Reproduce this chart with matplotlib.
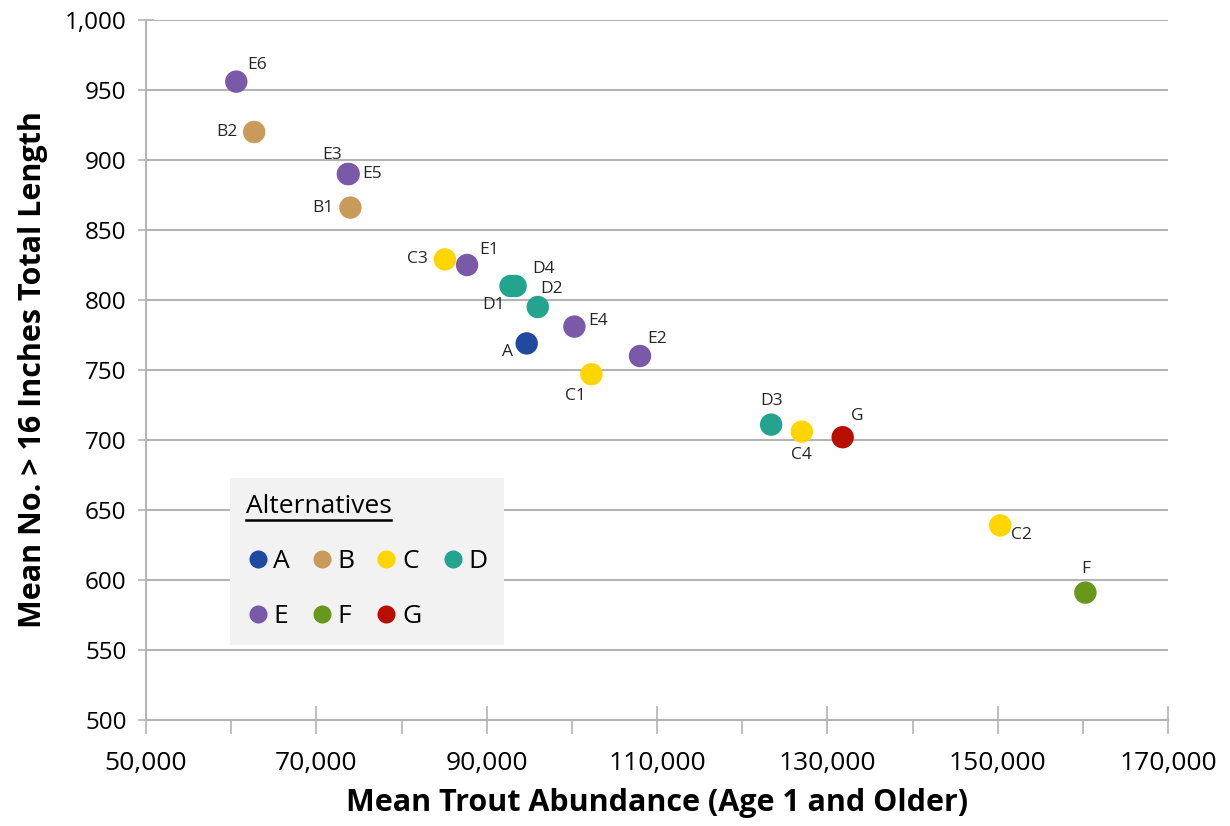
import matplotlib
matplotlib.use("Agg")
import matplotlib.pyplot as plt
from matplotlib.ticker import FuncFormatter, FixedLocator, MultipleLocator
from matplotlib.lines import Line2D

plt.rcParams['font.family'] = ['Open Sans', 'DejaVu Sans']

# alternatives and their colours
groups = ["A", "B", "C", "D", "E", "F", "G"]
group_colors = ["#2149a0", "#c99b5b", "#ffd500", "#22a48f", "#7a5aa8", "#67971b", "#b80e00"]

# points: name, group, abundance, mean no. > 16 in
names = ["E6", "B2", "E3", "E5", "B1", "C3", "E1", "D1", "D4", "D2", "E4", "A", "E2", "C1",
         "D3", "C4", "G", "C2", "F"]
point_groups = ["E", "B", "E", "E", "B", "C", "E", "D", "D", "D", "E", "A", "E", "C",
                "D", "C", "G", "C", "F"]
abundance = [60600, 62700, 73700, 73800, 74000, 85100, 87700, 92800, 93400, 96000, 100300,
             94700, 108000, 102300, 123400, 127000, 131800, 150300, 160300]
big_fish = [956, 920, 890, 890, 866, 829, 825, 810, 810, 795, 781, 769, 760, 747,
            711, 706, 702, 639, 591]

x_ticks = [50000, 70000, 90000, 110000, 130000, 150000, 170000]

# label offsets in points (dx, dy) and alignment
offsets = {
    "E6": (8, 12, "left"), "B2": (-12, 0, "right"), "E3": (-4, 14, "right"),
    "E5": (10, 0, "left"), "B1": (-12, 0, "right"), "C3": (-12, 0, "right"),
    "E1": (9, 11, "left"), "D1": (-4, -14, "right"), "D4": (12, 12, "left"),
    "D2": (2, 13, "left"), "E4": (10, 4, "left"), "A": (-10, -6, "right"),
    "E2": (5, 12, "left"), "C1": (-4, -16, "right"), "D3": (0, 17, "center"),
    "C4": (0, -17, "center"), "G": (6, 15, "left"), "C2": (8, -7, "left"),
    "F": (0, 17, "center"),
}

fig = plt.figure(figsize=(12.3, 8.26), dpi=100)
ax = fig.add_axes([0.1187, 0.1283, 0.8309, 0.8475])

color_of = dict(zip(groups, group_colors))
for n, g, x, y in zip(names, point_groups, abundance, big_fish):
    ax.scatter(x, y, s=260, color=color_of[g], edgecolors='none', zorder=3)
    dx, dy, ha = offsets[n]
    ax.annotate(n, (x, y), xytext=(dx, dy), textcoords='offset points',
                ha=ha, va='center', fontsize=12.5, color='#262626', zorder=4)

ax.set_xlim(50000, 170000)
ax.set_ylim(500, 1000)
ax.xaxis.set_major_locator(FixedLocator(x_ticks))
ax.xaxis.set_minor_locator(MultipleLocator(10000))
ax.yaxis.set_major_locator(MultipleLocator(50))
ax.xaxis.set_major_formatter(FuncFormatter(lambda v, p: f"{int(v):,}"))
ax.yaxis.set_major_formatter(FuncFormatter(lambda v, p: f"{int(v):,}"))

ax.grid(axis='y', color='#b4b4b4', linewidth=1.5)
ax.set_axisbelow(True)
for s in ['top', 'right']:
    ax.spines[s].set_visible(False)
for s in ['left', 'bottom']:
    ax.spines[s].set_color('#b4b4b4')
    ax.spines[s].set_linewidth(1.5)

ax.tick_params(axis='x', which='major', direction='inout', length=20, width=1.2,
               color='#b4b4b4', labelsize=19, pad=12)
ax.tick_params(axis='x', which='minor', direction='out', length=10, width=1.2, color='#b4b4b4')
ax.tick_params(axis='y', which='major', direction='inout', length=12, width=1.2,
               color='#b4b4b4', labelsize=17.5, pad=8)

ax.set_xlabel("Mean Trout Abundance (Age 1 and Older)", fontsize=22, fontweight='bold', labelpad=9)
ax.set_ylabel("Mean No. > 16 Inches Total Length", fontsize=22, fontweight='bold', labelpad=12)

# legend filled column-wise, so order gives rows A B C D / E F G
order = [0, 4, 1, 5, 2, 6, 3]
handles = [Line2D([], [], marker='o', linestyle='none', markersize=13,
                  markerfacecolor=group_colors[i], markeredgecolor='none') for i in order]
labels = [groups[i] for i in order]
leg = ax.legend(handles, labels, title="Alternatives", ncol=4, loc='lower left',
                bbox_to_anchor=(0.082, 0.107), fontsize=19, title_fontsize=19,
                frameon=True, fancybox=False, facecolor='#f2f2f2', edgecolor='none',
                framealpha=1, labelspacing=1.15, columnspacing=0.75, handletextpad=0.15,
                handlelength=0.9, borderpad=0.6, borderaxespad=0)
leg._legend_box.align = "left"

fig.canvas.draw()
tb = leg.get_title().get_window_extent()
inv = fig.transFigure.inverted()
(x0, y0), (x1, y1) = inv.transform([(tb.x0, tb.y0), (tb.x1, tb.y0)])
fig.add_artist(Line2D([x0, x1], [y0 - 0.002, y0 - 0.002], color='black', linewidth=1.8,
                      transform=fig.transFigure, zorder=10))

fig.savefig("out.png", dpi=100)
